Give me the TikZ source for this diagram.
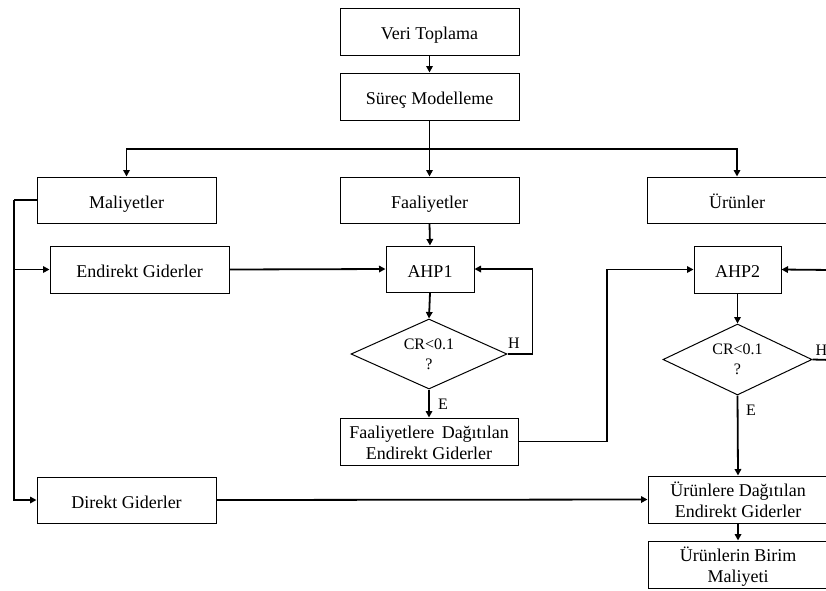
\documentclass[tikz,border=0pt]{standalone}
\usepackage{fontspec}
\setmainfont{Liberation Serif}
\usetikzlibrary{shapes.geometric,arrows.meta}
\newcommand{\twoline}[2]{\raisebox{-7.4pt}[0pt][0pt]{\begin{tabular}{@{}c@{}}#1\\#2\end{tabular}}}
\tikzset{
  box/.style={draw, line width=1pt, inner sep=0pt, align=center,
    font=\fontsize{18}{21}\selectfont},
  one/.style={text height=20pt, text depth=3.4pt},
  dec/.style={draw, diamond, line width=1pt, inner sep=0pt, aspect=2.2, align=center,
    font=\fontsize{16}{20}\selectfont},
  lbl/.style={font=\fontsize{16}{20}\selectfont, inner sep=0pt},
  arr/.style={line width=1.8pt, -{Triangle[length=6.5pt,width=6.5pt]}},
  ln/.style={line width=1.8pt}
}
\begin{document}
\begin{tikzpicture}[x=1pt,y=-1pt]
\useasboundingbox (0,0) rectangle (826,590);
\clip (0,0) rectangle (826,590);
% boxes
\node[box, one, minimum width=179pt, minimum height=47pt] (vt) at (429.5,31.5) {Veri Toplama};
\node[box, one, minimum width=179pt, minimum height=47pt] (sm) at (429.5,96.5) {Süreç Modelleme};
\node[box, one, minimum width=179pt, minimum height=46pt] (mal) at (126.5,200) {Maliyetler};
\node[box, one, minimum width=179pt, minimum height=46pt] (faa) at (429.5,200) {Faaliyetler};
\node[box, one, minimum width=180pt, minimum height=46pt] (urn) at (737,200) {Ürünler};
\node[box, one, minimum width=179pt, minimum height=47pt] (end) at (139.5,269.5) {Endirekt Giderler};
\node[box, one, minimum width=88pt, minimum height=46pt] (ahp1) at (430,269) {AHP1};
\node[dec, minimum width=156pt, minimum height=70pt] (d1) at (429,354) {CR<0.1\\?};
\node[box, minimum width=178pt, minimum height=47pt] (faad) at (429,441.5) {\twoline{Faaliyetlere\ \,Dağıtılan}{Endirekt Giderler}};
\node[box, one, minimum width=87pt, minimum height=47pt] (ahp2) at (737.5,269.5) {AHP2};
\node[dec, minimum width=149pt, minimum height=71pt] (d2) at (737.5,359.5) {CR<0.1\\?};
\node[box, one, minimum width=179pt, minimum height=46pt] (dir) at (126.5,500) {Direkt Giderler};
\node[box, minimum width=180pt, minimum height=47pt] (urd) at (738,499.5) {\twoline{Ürünlere Dağıtılan}{Endirekt Giderler}};
\node[box, minimum width=180pt, minimum height=47pt] (ubm) at (738,564.5) {\twoline{Ürünlerin Birim}{Maliyeti}};
% labels
\node[lbl] (h1) at (514,343) {H};
\node[lbl] (e1) at (443,404) {E};
\node[lbl] (h2) at (821.5,350) {H};
\node[lbl] (e2) at (751,410) {E};
% helper coordinates
\coordinate (br) at (429.5,149);
\coordinate (lx) at (14,200);
\coordinate (cx) at (607,350);
\coordinate (rin) at (832,270);
\coordinate (rout) at (832,360);
% connectors
\draw[arr] (vt.south) -- (sm.north);
\draw[arr] (sm.south) -- (faa.north);
\draw[arr] (br) -| (mal.north);
\draw[arr] (br) -| (urn.north);
\draw[arr] (faa.south) -- (ahp1.north);
\draw[ln] (mal.west) -- (lx);
\draw[arr] (lx) |- (dir.west);
\draw[arr] (lx) |- (end.west);
\draw[arr] (end.east) -- (ahp1.west);
\draw[arr] (ahp1.south) -- (d1.north);
\draw[arr] (d1.east) -- ++(25,0) |- (ahp1.east);
\draw[arr] (d1.south) -- (faad.north);
\draw[arr] (faad.east) -| (cx) |- (ahp2.west);
\draw[arr] (rin) -- (ahp2.east);
\draw[arr] (ahp2.south) -- (d2.north);
\draw[ln] (d2.east) -- (rout);
\draw[arr] (d2.south) -- (urd.north);
\draw[arr] (dir.east) -- (urd.west);
\draw[arr] (urd.south) -- (ubm.north);
\end{tikzpicture}
\end{document}
